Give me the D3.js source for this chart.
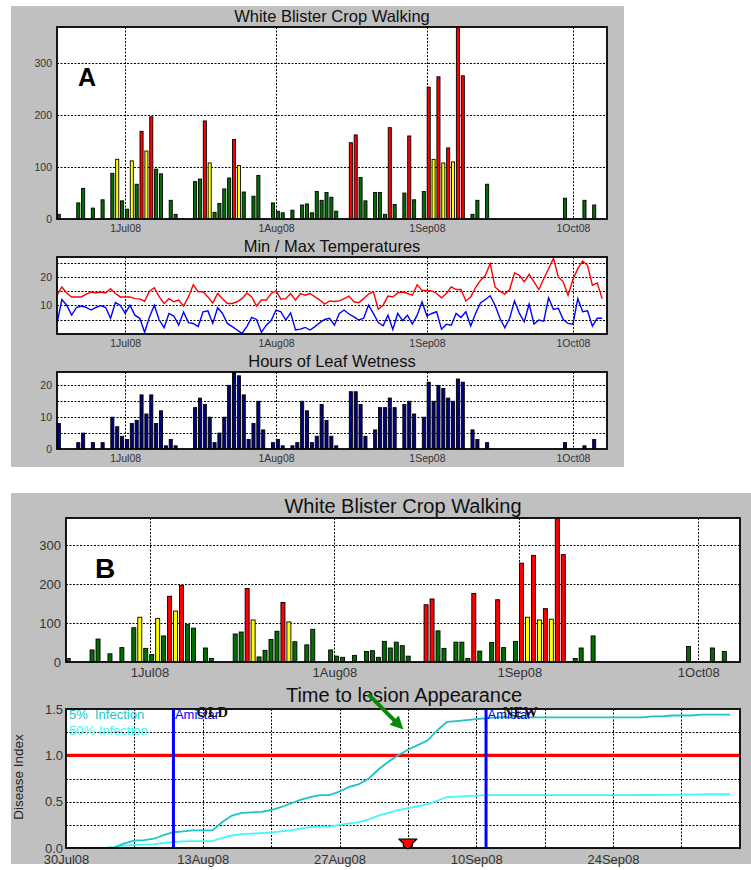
<!DOCTYPE html>
<html><head><meta charset="utf-8">
<script src="https://cdn.jsdelivr.net/npm/d3@7"></script>
<style>body{margin:0;background:#fff}</style>
</head><body><svg id="c" width="751" height="870"></svg>
<script>
// ---------------- DATA ----------------
const cropDates = ["2008-06-17","2008-06-21","2008-06-22","2008-06-24","2008-06-26","2008-06-28","2008-06-29","2008-06-30","2008-07-01","2008-07-02","2008-07-03","2008-07-04","2008-07-05","2008-07-06","2008-07-07","2008-07-08","2008-07-10","2008-07-11","2008-07-15","2008-07-16","2008-07-17","2008-07-18","2008-07-19","2008-07-20","2008-07-21","2008-07-22","2008-07-23","2008-07-24","2008-07-25","2008-07-27","2008-07-28","2008-07-31","2008-08-01","2008-08-02","2008-08-04","2008-08-06","2008-08-07","2008-08-08","2008-08-09","2008-08-10","2008-08-11","2008-08-12","2008-08-13","2008-08-16","2008-08-17","2008-08-18","2008-08-19","2008-08-21","2008-08-22","2008-08-23","2008-08-24","2008-08-25","2008-08-27","2008-08-28","2008-08-29","2008-08-31","2008-09-01","2008-09-02","2008-09-03","2008-09-04","2008-09-05","2008-09-06","2008-09-07","2008-09-08","2008-09-10","2008-09-11","2008-09-13","2008-09-29","2008-10-03","2008-10-05"];
const cropCounts = [9,31,59,21,37,88,115,35,19,112,67,169,131,197,96,87,36,9,72,77,189,108,13,30,58,79,153,103,52,44,84,31,15,12,17,27,29,12,53,36,51,42,15,147,162,80,35,51,51,9,176,28,50,160,37,53,254,115,274,108,137,110,400,276,9,36,67,40,36,27];
const cropRisk = ["g","g","g","g","g","g","y","g","g","y","g","r","y","r","g","g","g","g","g","g","r","y","g","g","g","g","r","y","g","g","g","g","g","g","g","g","g","g","g","g","g","g","g","r","r","g","g","g","g","g","r","g","g","r","g","g","r","y","r","y","r","y","r","r","g","g","g","g","g","g"];

const wetDates = ["2008-06-17","2008-06-21","2008-06-22","2008-06-24","2008-06-26","2008-06-28","2008-06-29","2008-06-30","2008-07-01","2008-07-02","2008-07-03","2008-07-04","2008-07-05","2008-07-06","2008-07-07","2008-07-08","2008-07-09","2008-07-10","2008-07-11","2008-07-15","2008-07-16","2008-07-17","2008-07-18","2008-07-19","2008-07-20","2008-07-21","2008-07-22","2008-07-23","2008-07-24","2008-07-25","2008-07-26","2008-07-27","2008-07-28","2008-07-29","2008-07-31","2008-08-01","2008-08-02","2008-08-04","2008-08-05","2008-08-06","2008-08-07","2008-08-08","2008-08-09","2008-08-10","2008-08-11","2008-08-12","2008-08-13","2008-08-16","2008-08-17","2008-08-18","2008-08-19","2008-08-21","2008-08-22","2008-08-23","2008-08-24","2008-08-25","2008-08-27","2008-08-28","2008-08-29","2008-08-31","2008-09-01","2008-09-02","2008-09-03","2008-09-04","2008-09-05","2008-09-06","2008-09-07","2008-09-08","2008-09-10","2008-09-11","2008-09-13","2008-09-29","2008-10-03","2008-10-05"];
const wetHours = [8,2,5,2,2,10,7,4,3,8,9,17,11,17,8,12,1,3,1,13,16,14,10,2,5,10,20,24,23,17,3,8,15,6,2,3,1,1,2,15,12,2,4,14,9,4,1,18,18,14,4,6,13,13,16,13,14,15,11,10,21,15,20,19,16,15,22,21,6,3,2,2,1,3];

const tempStart = "2008-06-17";
const tempMax = [13.6,16.5,14.4,13,13,13,14,14.7,14.4,14.7,14.4,15.9,14.2,13,13,13,12.4,12.3,11.5,15,16.2,13,10.7,12.4,11.3,11.9,9.8,13,17.3,14.8,14.8,13,10.9,14.2,12.4,10.7,10.7,11.3,12.4,14.4,13,9.8,11.9,11.9,14.2,15.1,12.2,12.4,14.2,11.9,14.2,13.6,14.2,13,11.9,10.5,11.6,11.4,11.6,12.4,13.3,11.3,11,12.4,14,14.8,8.7,10.1,13.3,13,14.4,14.7,14.2,13.6,17.3,15.3,15.3,15.1,14.2,12.7,14.2,16.5,15.6,15.6,11.6,13,16.3,18.8,20.5,24.7,16.5,15,14,15.6,21.4,20.6,18.3,20.9,18.3,15.6,19.4,22.9,26.5,20,18.3,13.6,19.1,22.9,25.6,24.1,17.1,17.9,12.4];
const tempMin = [3.7,12.1,10.1,6.6,9.3,9.8,9.3,8.4,9.3,10,9.3,5.5,11,10.1,7.2,10.1,6.6,5.5,0.6,6,10.1,4.9,2.2,7.2,6.3,3.1,7.7,4,3.7,2.6,7.8,8.1,3.7,9.2,7.2,3.7,2.6,1.4,0.2,2.6,5.8,5.1,0.6,3.1,4.7,8.4,7.8,4.9,7.4,1.4,1.7,2.3,1.4,2.6,4,5.1,5.5,3.1,7.2,8.4,7,6,4.9,5.5,10.1,7.2,4,2.9,6.6,1.6,7.2,4.7,6.6,3.5,6.6,11.3,6.3,7.2,7.8,1.7,3.4,3.1,7.2,5.8,7.8,2.8,7.2,10.9,12.1,13.4,10.1,5.5,2.2,5.5,11.6,7.2,4.3,10.5,3.5,4.9,4.5,12.7,8.6,9,5.1,3.7,3.4,12.4,7.8,8.1,2.8,5.5,5.5];

const diseaseStart = "2008-07-30";
const infection5 = [0,0,0,0,0,0.01,0.05,0.08,0.085,0.1,0.14,0.17,0.18,0.19,0.19,0.19,0.28,0.35,0.38,0.385,0.39,0.41,0.44,0.48,0.52,0.55,0.57,0.57,0.61,0.66,0.69,0.75,0.85,0.93,1.0,1.06,1.11,1.16,1.27,1.36,1.37,1.38,1.39,1.4,1.41,1.41,1.41,1.41,1.41,1.41,1.41,1.41,1.41,1.41,1.41,1.41,1.41,1.41,1.41,1.41,1.42,1.42,1.43,1.43,1.43,1.44,1.44,1.44,1.44];
const infection50 = [0,0,0,0,0,0.005,0.025,0.035,0.037,0.04,0.055,0.065,0.072,0.075,0.075,0.075,0.11,0.135,0.15,0.155,0.16,0.165,0.18,0.19,0.21,0.225,0.23,0.23,0.25,0.265,0.28,0.31,0.35,0.38,0.41,0.43,0.45,0.47,0.51,0.55,0.555,0.56,0.565,0.57,0.57,0.57,0.57,0.57,0.57,0.57,0.57,0.57,0.57,0.57,0.57,0.57,0.57,0.57,0.57,0.572,0.572,0.574,0.574,0.575,0.576,0.578,0.58,0.58,0.58];
const sprayDates = ["2008-08-10","2008-09-11"];
const sprayLabels = ["OLD","NEW"];
const lesionDate = "2008-09-03";

const monthTicks = ["2008-07-01","2008-08-01","2008-09-01","2008-10-01"];
const cropTicks = [0,100,200,300];
const tempTicks = [10,20];
const wetTicks = [0,10,20];
const diseaseTicks = [0,0.5,1.0,1.5];

// ---------------- SETUP ----------------
const FONT = '"Liberation Sans", Arial, sans-serif';
const parse = d3.timeParse("%Y-%m-%d");
const fmtDate = d3.timeFormat("%-d%b%y");
const riskColor = {g:"#006e00", y:"#ffff00", r:"#ff0000"};
const svg = d3.select("#c");
svg.append("rect").attr("width",751).attr("height",870).attr("fill","#fff");
svg.append("rect").attr("x",11).attr("y",6).attr("width",613).attr("height",461).attr("fill","#c0c0c0");
svg.append("rect").attr("x",11).attr("y",493).attr("width",740).attr("height",371).attr("fill","#c0c0c0");
const defs = svg.append("defs");
let clipN = 0;

function plot(box){
  const g = svg.append("g");
  g.append("rect").attr("x",box.l).attr("y",box.t).attr("width",box.r-box.l).attr("height",box.b-box.t).attr("fill","#fff");
  const id = "clip"+(clipN++);
  defs.append("clipPath").attr("id",id).append("rect").attr("x",box.l).attr("y",box.t).attr("width",box.r-box.l).attr("height",box.b-box.t);
  const grid = g.append("g");
  const inner = g.append("g").attr("clip-path",`url(#${id})`);
  return {g, grid, inner, box};
}
function grid(p, xs, ys){
  const b = p.box;
  xs.forEach(x=>{ const xx = Math.round(x)+0.5;
    p.grid.append("line").attr("x1",xx).attr("x2",xx).attr("y1",b.t).attr("y2",b.b)
      .attr("stroke","#000").attr("stroke-width",1).attr("stroke-dasharray","2,1.5");});
  ys.forEach(y=>{ const yy = Math.round(y)+0.5;
    p.grid.append("line").attr("x1",b.l).attr("x2",b.r).attr("y1",yy).attr("y2",yy)
      .attr("stroke","#000").attr("stroke-width",1).attr("stroke-dasharray","2,1.5");});
}
function border(p){
  const b = p.box;
  p.g.append("rect").attr("x",b.l).attr("y",b.t).attr("width",b.r-b.l).attr("height",b.b-b.t)
    .attr("fill","none").attr("stroke","#000").attr("stroke-width",1.8);
}
function leftAxis(p, scale, ticks, fmt, fs, pad){
  const a = p.g.append("g").attr("transform",`translate(${p.box.l},0)`)
    .call(d3.axisLeft(scale).tickValues(ticks).tickFormat(fmt).tickSize(0).tickPadding(pad));
  a.select(".domain").remove();
  a.attr("font-family",FONT).attr("font-size",fs);
  a.selectAll("text").attr("fill","#333");
}
function bottomAxis(p, scale, ticks, fs, pad){
  const a = p.g.append("g").attr("transform",`translate(0,${p.box.b})`)
    .call(d3.axisBottom(scale).tickValues(ticks).tickFormat(fmtDate).tickSize(0).tickPadding(pad));
  a.select(".domain").remove();
  a.attr("font-family",FONT).attr("font-size",fs);
  a.selectAll("text").attr("fill","#333");
}
function title(x, y, txt, fs){
  svg.append("text").attr("x",x).attr("y",y).attr("text-anchor","middle")
    .attr("font-family",FONT).attr("font-size",fs).attr("fill","#111").text(txt);
}
function barChart(p, x, y, dates, vals, colorFn){
  const dw = x(d3.timeDay.offset(parse("2008-07-01"),1)) - x(parse("2008-07-01"));
  p.inner.selectAll("rect.bar").data(d3.range(dates.length)).join("rect")
    .attr("x", i => x(parse(dates[i])) - 0.05*dw + 0.5)
    .attr("y", i => y(vals[i]))
    .attr("width", 0.84*dw - 1)
    .attr("height", i => y(0) - y(vals[i]))
    .attr("fill", colorFn).attr("stroke","#000").attr("stroke-width",0.9);
}
const t0 = parse("2008-06-17"), t1 = parse("2008-10-08");
const mTicks = monthTicks.map(parse);

// ---------------- PANEL A ----------------
{
  // crop walking
  const p = plot({l:57, r:607, t:27, b:219});
  const x = d3.scaleTime().domain([t0,t1]).range([57,607]);
  const y = d3.scaleLinear().domain([0,370]).range([219,27]);
  grid(p, mTicks.map(x), cropTicks.slice(1).map(y));
  barChart(p, x, y, cropDates, cropCounts, i => riskColor[cropRisk[i]]);
  border(p);
  leftAxis(p, y, cropTicks, d3.format("d"), 10.5, 5);
  bottomAxis(p, x, mTicks, 10.5, 5.5);
  title(332, 21.5, "White Blister Crop Walking", 16.5);
  svg.append("text").attr("x",78).attr("y",86).attr("font-family",FONT).attr("font-weight","bold")
    .attr("font-size",25).attr("fill","#000").text("A");

  // temperatures
  const pt = plot({l:57, r:607, t:257, b:334});
  const yt = d3.scaleLinear().domain([0,27]).range([334,257]);
  grid(pt, mTicks.map(x), [5,10,15,20,25].map(yt));
  const days = tempMax.map((v,i)=>d3.timeDay.offset(parse(tempStart), i));
  const line = vals => d3.line().x((d,i)=>x(days[i])).y(d=>yt(d))(vals);
  pt.inner.append("path").attr("d", line(tempMax)).attr("fill","none").attr("stroke","#ff0000").attr("stroke-width",1.4);
  pt.inner.append("path").attr("d", line(tempMin)).attr("fill","none").attr("stroke","#0000ff").attr("stroke-width",1.4);
  border(pt);
  leftAxis(pt, yt, tempTicks, d3.format("d"), 10.5, 5);
  bottomAxis(pt, x, mTicks, 10.5, 5.5);
  title(332, 251.5, "Min / Max Temperatures", 16.5);

  // leaf wetness
  const pw = plot({l:57, r:607, t:372, b:449});
  const yw = d3.scaleLinear().domain([0,24.2]).range([449,372]);
  grid(pw, mTicks.map(x), [5,10,15,20].map(yw));
  barChart(pw, x, yw, wetDates, wetHours, () => "#000080");
  border(pw);
  leftAxis(pw, yw, wetTicks, d3.format("d"), 10.5, 5);
  bottomAxis(pw, x, mTicks, 10.5, 5.5);
  title(332, 366.5, "Hours of Leaf Wetness", 16.5);
}

// ---------------- PANEL B ----------------
{
  const p = plot({l:66, r:740, t:518, b:662});
  const x = d3.scaleTime().domain([t0,t1]).range([66,740]);
  const y = d3.scaleLinear().domain([0,370]).range([662,518]);
  grid(p, mTicks.map(x), cropTicks.slice(1).map(y));
  barChart(p, x, y, cropDates, cropCounts, i => riskColor[cropRisk[i]]);
  border(p);
  leftAxis(p, y, cropTicks, d3.format("d"), 13, 5);
  bottomAxis(p, x, mTicks, 13, 6);
  title(403, 513, "White Blister Crop Walking", 20);
  svg.append("text").attr("x",95).attr("y",578).attr("font-family",FONT).attr("font-weight","bold")
    .attr("font-size",28).attr("fill","#000").text("B");

  // time to lesion appearance
  const d0 = parse("2008-07-30"), d1 = parse("2008-10-07");
  const pd = plot({l:66, r:740, t:709, b:848});
  const xd = d3.scaleTime().domain([d0,d1]).range([66,740]);
  const yd = d3.scaleLinear().domain([0,1.5]).range([848,709]);
  const weekly = d3.timeDay.range(d0, d1, 7).slice(1);
  grid(pd, weekly.map(xd), [0.25,0.5,0.75,1.25].map(yd));
  pd.inner.append("line").attr("x1",66).attr("x2",740).attr("y1",yd(1)).attr("y2",yd(1))
    .attr("stroke","#ff0000").attr("stroke-width",3.2);
  const ddays = infection5.map((v,i)=>d3.timeDay.offset(parse(diseaseStart), i));
  const dl = vals => d3.line().x((d,i)=>xd(ddays[i])).y(d=>yd(d))(vals);
  pd.inner.append("path").attr("d", dl(infection50)).attr("fill","none").attr("stroke","#40f8f8").attr("stroke-width",1.8);
  pd.inner.append("path").attr("d", dl(infection5)).attr("fill","none").attr("stroke","#1cc4c4").attr("stroke-width",1.8);
  sprayDates.forEach((s,i)=>{
    const sx = xd(parse(s));
    pd.inner.append("line").attr("x1",sx).attr("x2",sx).attr("y1",709).attr("y2",848)
      .attr("stroke","#0000ff").attr("stroke-width",3);
  });
  pd.g.append("text").attr("x",69).attr("y",719).attr("font-family",FONT).attr("font-size",13)
    .attr("fill","#1cc4c4").style("white-space","pre").text("5%  Infection");
  pd.g.append("text").attr("x",69).attr("y",735).attr("font-family",FONT).attr("font-size",13)
    .attr("fill","#40f8f8").style("white-space","pre").text("50% Infection");
  border(pd);
  sprayDates.forEach((s,i)=>{
    const sx = xd(parse(s));
    svg.append("text").attr("x",sx+1.5).attr("y",719).attr("font-family",FONT).attr("font-size",13)
      .attr("fill","#0000ff").text("Amistar");
    svg.append("text").attr("x",sx+(i===0?23:17)).attr("y",717).attr("font-family",'"Liberation Serif", "Times New Roman", serif')
      .attr("font-weight","bold").attr("font-size",14.5).attr("fill","#111").text(sprayLabels[i]);
  });
  leftAxis(pd, yd, diseaseTicks, d3.format(".1f"), 13, 3);
  bottomAxis(pd, xd, d3.timeDay.range(d0, d1, 14), 13, 6.3);
  title(404, 701.5, "Time to lesion Appearance", 20);
  svg.append("text").attr("transform","translate(23,777) rotate(-90)").attr("text-anchor","middle")
    .attr("font-family",FONT).attr("font-size",13.5).attr("fill","#222").text("Disease Index");

  // lesion marker
  const mx = xd(parse(lesionDate)), my = yd(0);
  svg.append("path").attr("transform",`translate(${mx},${my})`)
    .attr("d","M-9,-9 L9,-9 L4.5,-4.5 L4.5,-2 L0,1 L-4.5,-2 L-4.5,-4.5 Z")
    .attr("fill","#ff0000").attr("stroke","#000").attr("stroke-width",1.2).attr("stroke-linejoin","round");

  // green arrow pointing at the 1.0 crossing
  const tipX = mx - 4.5, tipY = yd(1.28);
  const tailX = tipX - 35, tailY = tipY - 35;
  const ux = (tipX-tailX)/Math.hypot(tipX-tailX, tipY-tailY), uy = (tipY-tailY)/Math.hypot(tipX-tailX, tipY-tailY);
  const hl = 13, hw = 6.5;
  const bx = tipX - ux*hl, by = tipY - uy*hl;
  svg.append("line").attr("x1",tailX).attr("y1",tailY).attr("x2",bx+ux*2).attr("y2",by+uy*2)
    .attr("stroke","#0b870b").attr("stroke-width",4);
  svg.append("path").attr("d",`M${tipX},${tipY} L${bx - uy*hw},${by + ux*hw} L${bx + uy*hw},${by - ux*hw} Z`)
    .attr("fill","#0b870b");
}
</script>
</body></html>
